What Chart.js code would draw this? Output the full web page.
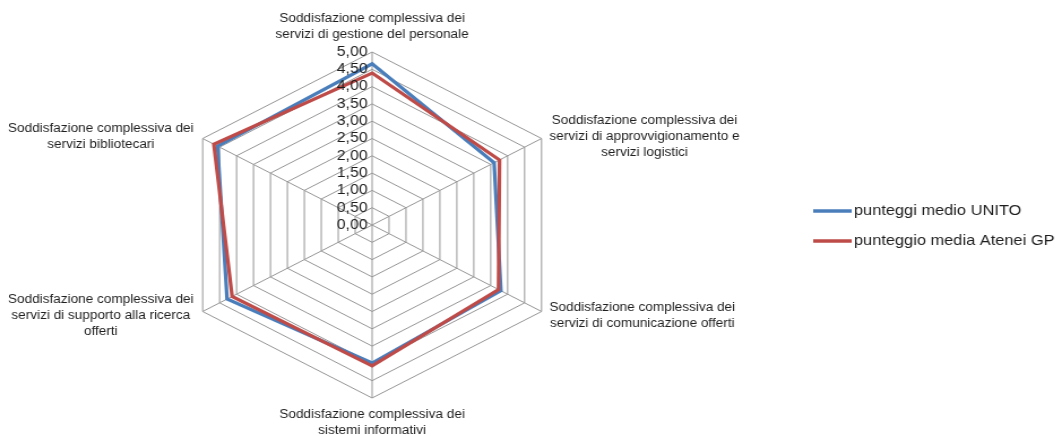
<!DOCTYPE html>
<html>
<head>
<meta charset="utf-8">
<script src="https://cdn.jsdelivr.net/npm/chart.js@4.4.1/dist/chart.umd.min.js"></script>
<style>
  html, body { margin: 0; padding: 0; background: #ffffff; overflow: hidden; }
  #wrap { position: absolute; left: 0; top: 0; width: 939px; height: 436px;
          transform: scaleX(1.131); transform-origin: 0 0; }
  canvas { display: block; }
</style>
</head>
<body>
<div id="wrap"><canvas id="c" width="939" height="436"></canvas></div>
<script>
// ---- data ----
const categories = [
  ["Soddisfazione complessiva dei", "servizi di gestione del personale"],
  ["Soddisfazione complessiva dei", "servizi di approvvigionamento e", "servizi logistici"],
  ["Soddisfazione complessiva dei", "servizi di comunicazione offerti"],
  ["Soddisfazione complessiva dei", "sistemi informativi"],
  ["Soddisfazione complessiva dei", "servizi di supporto alla ricerca", "offerti"],
  ["Soddisfazione complessiva dei", "servizi bibliotecari"]
];
const seriesNames = ["punteggi medio UNITO", "punteggio media Atenei GP"];
const unito = [4.66, 3.60, 3.80, 3.99, 4.28, 4.56];
const ateneiGP = [4.39, 3.76, 3.73, 4.07, 4.13, 4.67];
const tickLabels = ["0,00", "0,50", "1,00", "1,50", "2,00", "2,50", "3,00", "3,50", "4,00", "4,50", "5,00"];

const BLUE = '#4a7ebb';
const RED = '#be4b48';
const TEXT = '#1e1e1e';
const GRID = '#969696';

const labelPlugin = {
  id: 'excelLabels',
  afterDraw(chart) {
    const ctx = chart.ctx;
    const sc = chart.scales.r;
    ctx.save();
    ctx.fillStyle = TEXT;
    // tick labels, right aligned left of the vertical axis
    ctx.font = '14px "Liberation Sans", Arial, sans-serif';
    ctx.textAlign = 'right';
    ctx.textBaseline = 'middle';
    sc.ticks.forEach(t => {
      const d = sc.getDistanceFromCenterForValue(t.value);
      ctx.fillText(t.label, sc.xCenter - 4, sc.yCenter - d);
    });
    // category labels
    ctx.font = '12px "Liberation Sans", Arial, sans-serif';
    ctx.textAlign = 'center';
    const lh = 16;
    chart.data.labels.forEach((lines, i) => {
      const p = sc.getPointPosition(i, sc.drawingArea);
      const dx = p.x - sc.xCenter;
      const n = lines.length;
      const w = Math.max(...lines.map(l => ctx.measureText(l).width));
      let cx, cy0;
      if (Math.abs(dx) < 1) {
        cx = p.x;
        cy0 = p.y < sc.yCenter ? p.y - 17 - (n - 1) * lh : p.y + 17;
      } else {
        cx = dx > 0 ? p.x + 7 + w / 2 : p.x - 8 - w / 2;
        const bc = p.y + (p.y < sc.yCenter ? -2 : 4);
        cy0 = bc - (n - 1) * lh / 2;
      }
      lines.forEach((l, k) => ctx.fillText(l, cx, cy0 + k * lh));
    });
    // legend
    ctx.font = '14.5px "Liberation Sans", Arial, sans-serif';
    ctx.textAlign = 'left';
    chart.data.datasets.forEach((ds, i) => {
      const y = 211 + i * 30;
      ctx.strokeStyle = ds.borderColor;
      ctx.lineWidth = 3.5;
      ctx.lineCap = 'butt';
      ctx.beginPath();
      ctx.moveTo(719, y);
      ctx.lineTo(753, y);
      ctx.stroke();
      ctx.fillStyle = TEXT;
      ctx.fillText(ds.label, 755, y);
    });
    ctx.restore();
  }
};

new Chart(document.getElementById('c'), {
  type: 'radar',
  data: {
    labels: categories,
    datasets: [
      { label: seriesNames[0], data: unito, borderColor: BLUE, backgroundColor: BLUE,
        borderWidth: 3.2, fill: false, pointRadius: 0, pointHoverRadius: 0, tension: 0, order: 1 },
      { label: seriesNames[1], data: ateneiGP, borderColor: RED, backgroundColor: RED,
        borderWidth: 3.2, fill: false, pointRadius: 0, pointHoverRadius: 0, tension: 0, order: 0 }
    ]
  },
  options: {
    responsive: false,
    animation: false,
    events: [],
    layout: { padding: { left: 156, right: 437, top: 52, bottom: 38 } },
    plugins: { legend: { display: false }, tooltip: { enabled: false } },
    scales: {
      r: {
        min: 0,
        max: 5,
        ticks: { stepSize: 0.5, display: false, callback: (v, i) => tickLabels[i] },
        pointLabels: { display: false },
        grid: { color: GRID, lineWidth: 1, circular: false },
        angleLines: { color: GRID, lineWidth: 1 }
      }
    }
  },
  plugins: [labelPlugin]
});
</script>
</body>
</html>
